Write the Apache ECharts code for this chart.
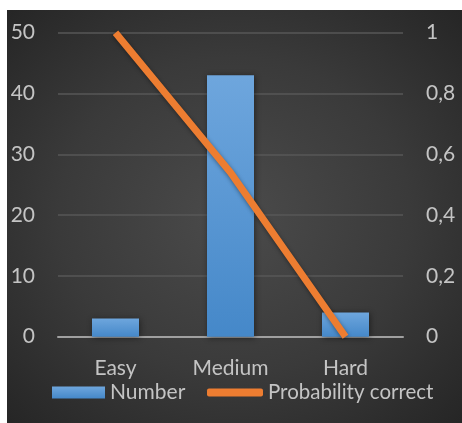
<!DOCTYPE html>
<html>
<head>
<meta charset="utf-8">
<script src="https://cdn.jsdelivr.net/npm/echarts@6/dist/echarts.min.js"></script>
<style>
html,body{margin:0;padding:0;background:#fff;width:462px;height:423px;overflow:hidden;}
#c{position:absolute;left:7px;top:10px;width:455px;height:413px;
background:radial-gradient(ellipse 70% 70% at 50% 50%, #4b4b4b 0%, #3a3a3a 55%, #262626 100%);}
</style>
</head>
<body>
<div id="c"></div>
<script>
const categories = ['Easy', 'Medium', 'Hard'];
const numberValues = [3, 43, 4];
const probabilityValues = [1, 0.54, 0];
const leftTicks = {min: 0, max: 50, interval: 10};
const rightTicks = {min: 0, max: 1, interval: 0.2};

const FONT = 'Lato';
const LABEL = '#c4c4c4';
const chart = echarts.init(document.getElementById('c'), null, {renderer: 'canvas'});
chart.setOption({
  backgroundColor: 'transparent',
  animation: false,
  textStyle: {fontFamily: FONT},
  grid: {left: 51, right: 59, top: 22.7, bottom: 86.3, containLabel: false},
  legend: [
    {data: ['Number'], left: 45, top: 372, padding: 0, itemWidth: 53, itemHeight: 12, icon: 'rect',
     textStyle: {color: LABEL, fontSize: 21, fontFamily: FONT}},
    {data: ['Probability correct'], left: 200, top: 372, padding: 0, itemWidth: 56, itemHeight: 8, icon: 'roundRect',
     textStyle: {color: LABEL, fontSize: 20.5, fontFamily: FONT}}
  ],
  xAxis: {
    type: 'category', data: categories,
    axisLine: {lineStyle: {color: '#a0a0a0', width: 2}},
    axisTick: {show: false},
    axisLabel: {color: LABEL, fontSize: 21, margin: 21, fontFamily: FONT}
  },
  yAxis: [
    {type: 'value', min: leftTicks.min, max: leftTicks.max, interval: leftTicks.interval,
     axisLine: {show: false}, axisTick: {show: false},
     axisLabel: {color: LABEL, fontSize: 21, margin: 23, fontFamily: FONT},
     splitLine: {lineStyle: {color: '#575757', width: 1.5}}},
    {type: 'value', min: rightTicks.min, max: rightTicks.max, interval: rightTicks.interval,
     axisLine: {show: false}, axisTick: {show: false},
     axisLabel: {color: LABEL, fontSize: 21, margin: 23, fontFamily: FONT,
       formatter: v => String(Math.round(v * 10) / 10).replace('.', ',')},
     splitLine: {show: false}}
  ],
  series: [
    {name: 'Number', type: 'bar', data: numberValues, barWidth: 47, yAxisIndex: 0,
     itemStyle: {
       color: new echarts.graphic.LinearGradient(0, 0, 0, 1, [
         {offset: 0, color: '#6ea6dd'}, {offset: 1, color: '#4588c9'}]),
       shadowBlur: 6, shadowColor: 'rgba(0,0,0,0.45)', shadowOffsetX: 1, shadowOffsetY: 1
     }},
    {name: 'Probability correct', type: 'line', data: probabilityValues, yAxisIndex: 1,
     symbol: 'none', showSymbol: false,
     lineStyle: {color: '#ed7d31', width: 7, shadowBlur: 4, shadowColor: 'rgba(0,0,0,0.4)', shadowOffsetY: 1},
     itemStyle: {color: '#ed7d31'}}
  ]
});
</script>
</body>
</html>
